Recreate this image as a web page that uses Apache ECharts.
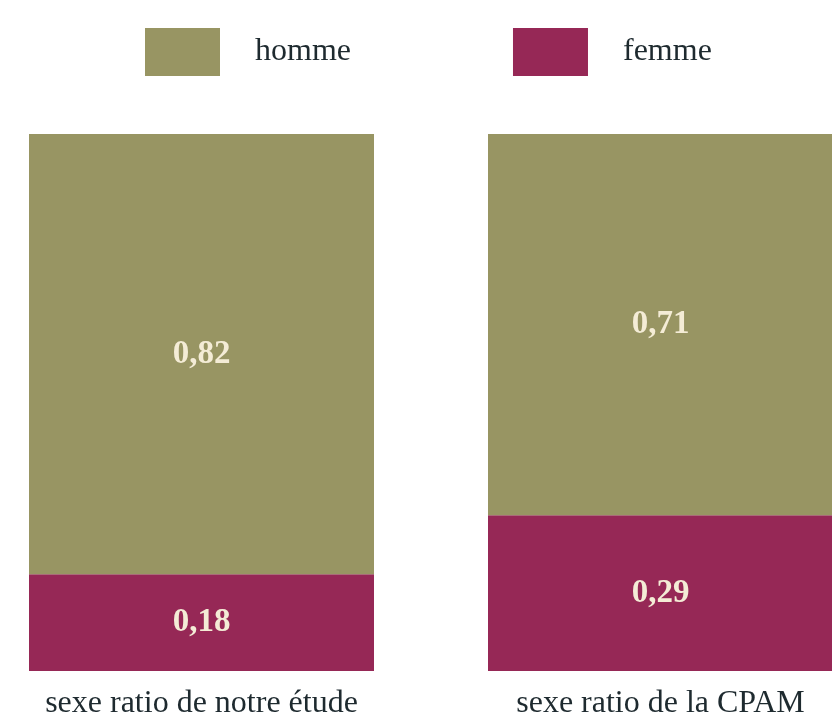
<!DOCTYPE html>
<html>
<head>
<meta charset="utf-8">
<script src="https://cdn.jsdelivr.net/npm/echarts@6/dist/echarts.min.js"></script>
<style>
  html, body { margin: 0; padding: 0; background: #fff; overflow: hidden; }
  /* le graphique d'origine est rogné à gauche et à droite */
  #main { width: 960px; height: 724px; margin-left: -28px; }
</style>
</head>
<body>
<div id="main"></div>
<script>
  // données
  var categories = ['sexe ratio de notre étude', 'sexe ratio de la CPAM'];
  var homme = [0.82, 0.71];
  var femme = [0.18, 0.29];

  var chart = echarts.init(document.getElementById('main'));

  function fmt(p) {
    return String(p.value).replace('.', ',');
  }

  var valueLabel = {
    show: true,
    position: 'inside',
    formatter: fmt,
    color: '#f4ecd6',
    fontFamily: 'Liberation Serif',
    fontWeight: 'bold',
    fontSize: 33
  };

  chart.setOption({
    animation: false,
    legend: {
      top: 23,
      left: 168,
      itemWidth: 75,
      itemHeight: 48,
      itemGap: 162,
      icon: 'rect',
      data: ['homme', 'femme'],
      textStyle: {
        fontFamily: 'Liberation Serif',
        fontSize: 32,
        color: '#1e2a2f',
        padding: [0, 0, 0, 30]
      }
    },
    grid: { left: 0, top: 134, width: 918, height: 537 },
    xAxis: {
      type: 'category',
      data: categories,
      axisLine: { show: false },
      axisTick: { show: false },
      axisLabel: {
        margin: 17,
        fontFamily: 'Liberation Serif',
        fontSize: 32,
        color: '#1e2a2f'
      }
    },
    yAxis: { type: 'value', min: 0, max: 1, show: false, splitLine: { show: false } },
    series: [
      {
        name: 'femme',
        type: 'bar',
        stack: 'total',
        barWidth: 345,
        data: femme,
        itemStyle: { color: '#962856' },
        label: valueLabel
      },
      {
        name: 'homme',
        type: 'bar',
        stack: 'total',
        barWidth: 345,
        data: homme,
        itemStyle: { color: '#989563' },
        label: valueLabel
      }
    ]
  });
</script>
</body>
</html>
